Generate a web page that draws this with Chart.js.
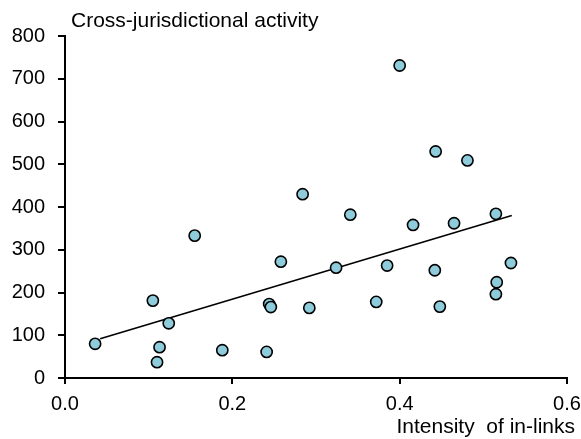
<!DOCTYPE html>
<html>
<head>
<meta charset="utf-8">
<script src="https://cdn.jsdelivr.net/npm/chart.js@4"></script>
<style>
  html, body { margin: 0; padding: 0; background: #fff; }
  #wrap { width: 581px; height: 439px; position: relative; }
</style>
</head>
<body>
<div id="wrap"><canvas id="scatterChart"></canvas></div>
<script>
// intensity of in-links (x) and cross-jurisdictional activity (y)
var inLinks = [0.036, 0.105, 0.113, 0.110, 0.124, 0.155, 0.188, 0.241, 0.244, 0.246,
               0.258, 0.284, 0.292, 0.324, 0.341, 0.372, 0.385, 0.400, 0.416, 0.442,
               0.443, 0.448, 0.465, 0.481, 0.515, 0.515, 0.516, 0.533];
var activity = [80, 181, 72, 37, 128, 333, 65, 61, 173, 166,
                272, 430, 164, 258, 382, 178, 263, 731, 358, 252,
                530, 167, 362, 509, 384, 196, 224, 269];

// fitted line at both ends
var trendX = [0.042, 0.534];
var trendY = [92, 380];

var xTicks = [0, 0.2, 0.4, 0.6];
var yTicks = [0, 100, 200, 300, 400, 500, 600, 700, 800];

var yTitle = 'Cross-jurisdictional activity';
var xTitle = 'Intensity  of in-links';

var fontFamily = '"Liberation Sans", Arial, sans-serif';

// both axis titles sit outside the usual Chart.js spots, so draw them here
var axisTitlePlugin = {
    id: 'axisTitles',
    afterDraw: function(chart) {
        var ctx = chart.ctx;
        var area = chart.chartArea;
        ctx.save();
        ctx.font = '21px ' + fontFamily;
        ctx.fillStyle = '#000';
        ctx.textBaseline = 'middle';
        ctx.textAlign = 'left';
        ctx.fillText(yTitle, area.left + 6, area.top - 15);
        ctx.textAlign = 'right';
        ctx.fillText(xTitle, area.right + 8, chart.height - 12);
        ctx.restore();
    }
};

document.addEventListener('DOMContentLoaded', function() {
    var ctx = document.getElementById('scatterChart').getContext('2d');

    var points = inLinks.map(function(x, i) { return { x: x, y: activity[i] }; });
    var trend = trendX.map(function(x, i) { return { x: x, y: trendY[i] }; });

    new Chart(ctx, {
        type: 'scatter',
        data: {
            datasets: [
                {
                    label: 'Trend',
                    type: 'line',
                    data: trend,
                    borderColor: '#000',
                    borderWidth: 1.6,
                    pointRadius: 0,
                    fill: false,
                    order: 2
                },
                {
                    label: 'Jurisdictions',
                    data: points,
                    backgroundColor: '#8ecbdb',
                    borderColor: '#000',
                    borderWidth: 1.6,
                    pointRadius: 5.6,
                    order: 1
                }
            ]
        },
        options: {
            responsive: true,
            maintainAspectRatio: false,
            animation: false,
            layout: { padding: { top: 36, right: 14, left: 0, bottom: 0 } },
            scales: {
                x: {
                    type: 'linear',
                    min: 0,
                    max: 0.6,
                    afterBuildTicks: function(axis) {
                        axis.ticks = xTicks.map(function(v) { return { value: v }; });
                    },
                    afterFit: function(scale) {
                        scale.paddingRight = 0;
                        scale.height = 61;
                    },
                    grid: { display: true, drawOnChartArea: false, drawTicks: true, tickLength: 6, color: '#000', lineWidth: 2 },
                    border: { color: '#000', width: 2 },
                    ticks: {
                        color: '#000',
                        padding: 8,
                        font: { family: fontFamily, size: 20 },
                        callback: function(v) { return Number(v).toFixed(1); }
                    }
                },
                y: {
                    type: 'linear',
                    min: 0,
                    max: 800,
                    afterBuildTicks: function(axis) {
                        axis.ticks = yTicks.map(function(v) { return { value: v }; });
                    },
                    afterFit: function(scale) {
                        scale.width = 65;
                    },
                    grid: { display: true, drawOnChartArea: false, drawTicks: true, tickLength: 7, color: '#000', lineWidth: 2 },
                    border: { color: '#000', width: 2 },
                    ticks: {
                        color: '#000',
                        padding: 13,
                        font: { family: fontFamily, size: 20 }
                    }
                }
            },
            plugins: {
                legend: { display: false },
                tooltip: { enabled: false }
            }
        },
        plugins: [axisTitlePlugin]
    });
});
</script>
</body>
</html>
